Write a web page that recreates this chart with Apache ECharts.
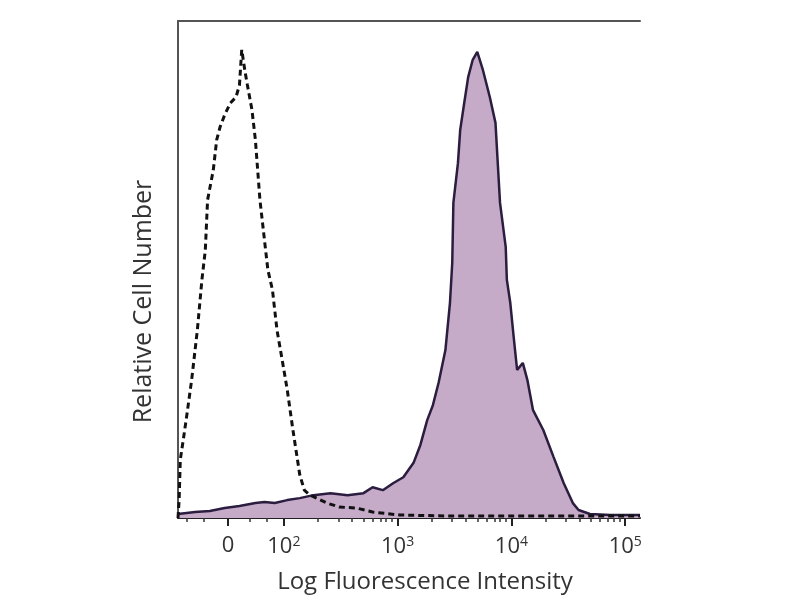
<!DOCTYPE html>
<html>
<head>
<meta charset="utf-8">
<script src="https://cdn.jsdelivr.net/npm/echarts@6/dist/echarts.min.js"></script>
<style>
  html, body { margin: 0; padding: 0; background: #fff; }
  #chart { width: 800px; height: 600px; }
</style>
</head>
<body>
<div id="chart"></div>
<script>
// x is in display decades (2 = 10^2, 3 = 10^3 ...), y is relative count (0-100)
const stainedPos   = [1.07, 1.22, 1.35, 1.48, 1.61, 1.75, 1.83, 1.92, 2.03, 2.14, 2.26, 2.41, 2.56, 2.70, 2.78, 2.87, 2.96, 3.05, 3.14, 3.20, 3.26, 3.31, 3.36, 3.42, 3.46, 3.48, 3.49, 3.53, 3.55, 3.58, 3.62, 3.66, 3.70, 3.75, 3.81, 3.86, 3.88, 3.90, 3.95, 3.96, 3.99, 4.02, 4.05, 4.10, 4.14, 4.19, 4.28, 4.37, 4.46, 4.54, 4.59, 4.69, 4.87, 5.13]
const stainedCount = [0.8, 1.2, 1.4, 2.0, 2.4, 3.0, 3.2, 3.0, 3.6, 4.0, 4.6, 5.0, 4.6, 5.0, 6.2, 5.6, 7.0, 8.2, 11.1, 14.7, 19.7, 22.7, 27.2, 33.8, 43.3, 51.3, 63.4, 71.4, 78.1, 82.7, 88.7, 92.2, 93.8, 90.1, 84.7, 79.5, 71.4, 63.4, 54.5, 47.9, 43.3, 36.4, 29.8, 31.2, 27.8, 21.7, 17.7, 12.3, 7.0, 3.0, 1.6, 0.8, 0.6, 0.6]

const controlPos   = [1.07, 1.08, 1.09, 1.12, 1.15, 1.19, 1.24, 1.28, 1.31, 1.33, 1.38, 1.41, 1.44, 1.48, 1.53, 1.58, 1.61, 1.63, 1.66, 1.68, 1.72, 1.75, 1.79, 1.83, 1.86, 1.90, 1.94, 1.99, 2.03, 2.08, 2.14, 2.18, 2.23, 2.38, 2.49, 2.64, 2.78, 3.02, 3.46, 3.90, 4.43, 5.13]
const controlCount = [0, 3.6, 11.7, 16.3, 21.1, 27.8, 37.8, 47.9, 53.9, 64.0, 70.0, 76.1, 78.7, 81.1, 83.5, 84.7, 87.1, 94.2, 89.7, 87.1, 82.1, 76.1, 64.0, 55.9, 49.9, 45.9, 37.8, 31.2, 25.8, 17.7, 8.7, 5.6, 4.6, 3.0, 2.2, 2.0, 1.2, 0.6, 0.4, 0.4, 0.4, 0.4]

const tickValues = [1.51, 2, 3, 4, 5]
const tickLabels = ['0', '10{s|2}', '10{s|3}', '10{s|4}', '10{s|5}']
const minorTicks = [1.15, 1.3, 1.7, 1.85, 2.3, 2.48, 2.6, 2.7, 2.78, 2.85, 2.9, 2.95,
  3.3, 3.48, 3.6, 3.7, 3.78, 3.85, 3.9, 3.95, 4.3, 4.48, 4.6, 4.7, 4.78, 4.85, 4.9, 4.95]

const xMin = 1.07, xMax = 5.13

const chart = echarts.init(document.getElementById('chart'))
const font = "'Open Sans', 'DejaVu Sans', sans-serif"

chart.setOption({
  backgroundColor: '#fff',
  animation: false,
  grid: { left: 178, right: 160, top: 21, bottom: 82 },
  xAxis: [
    {
      type: 'value', min: xMin, max: xMax,
      name: 'Log Fluorescence Intensity',
      nameLocation: 'middle', nameGap: 52,
      nameTextStyle: { fontFamily: font, fontSize: 24, color: '#333', padding: [0, 0, 0, 32] },
      axisLine: { show: true, lineStyle: { color: '#222', width: 2 } },
      axisTick: { show: true, customValues: tickValues, length: 8, inside: false, lineStyle: { color: '#222', width: 2 } },
      axisLabel: {
        customValues: tickValues,
        margin: 17,
        fontFamily: font, fontSize: 22, color: '#333',
        formatter: v => tickLabels[tickValues.indexOf(v)],
        rich: { s: { fontFamily: font, fontSize: 14, color: '#333', verticalAlign: 'top', padding: [0, 0, 10, 0] } },
      },
      splitLine: { show: false },
    },
    {
      type: 'value', min: xMin, max: xMax, position: 'bottom',
      axisLine: { show: false },
      axisTick: { show: true, customValues: minorTicks, length: 4, lineStyle: { color: '#333', width: 1.5 } },
      axisLabel: { show: false },
      splitLine: { show: false },
    },
    {
      type: 'value', min: xMin, max: xMax, position: 'top',
      axisLine: { show: true, onZero: false, lineStyle: { color: '#555', width: 2 } },
      axisTick: { show: false },
      axisLabel: { show: false },
      splitLine: { show: false },
    },
  ],
  yAxis: {
    type: 'value', min: 0, max: 100,
    name: 'Relative Cell Number',
    nameLocation: 'middle', nameGap: 22,
    nameTextStyle: { fontFamily: font, fontSize: 25, color: '#333', padding: [0, 64, 0, 0] },
    axisLine: { show: true, lineStyle: { color: '#555', width: 2 } },
    axisTick: { show: false },
    axisLabel: { show: false },
    splitLine: { show: false },
  },
  series: [
    {
      type: 'line',
      data: stainedPos.map((x, i) => [x, stainedCount[i]]),
      showSymbol: false,
      lineStyle: { color: '#2b1d3f', width: 2.5 },
      areaStyle: { color: '#c6abc9', opacity: 1 },
      z: 2,
    },
    {
      type: 'line',
      data: controlPos.map((x, i) => [x, controlCount[i]]),
      showSymbol: false,
      lineStyle: { color: '#111', width: 3, type: [6, 4] },
      z: 3,
    },
  ],
})
</script>
</body>
</html>
